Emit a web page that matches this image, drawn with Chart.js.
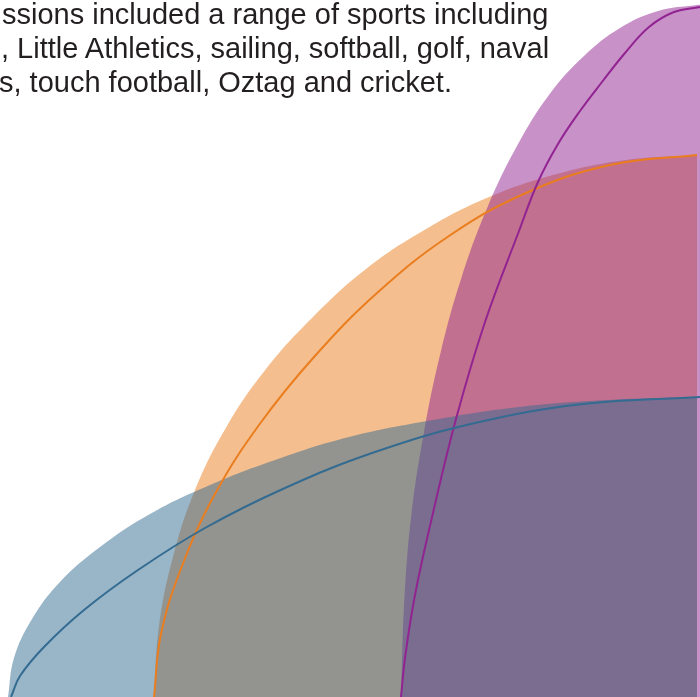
<!DOCTYPE html>
<html>
<head>
<meta charset="utf-8">
<script src="https://cdn.jsdelivr.net/npm/chart.js@4/dist/chart.umd.min.js"></script>
<style>
    body { margin: 0; background: #fff; overflow: hidden; }
    #wrap { position: relative; width: 700px; height: 697px; overflow: hidden; }
    #chart { position: absolute; left: 0; top: 0; }
    .note {
        position: absolute;
        white-space: nowrap;
        font-family: "Liberation Sans", Arial, sans-serif;
        font-size: 29px;
        line-height: 34px;
        color: #231f20;
    }
</style>
</head>
<body>
<div id="wrap">
    <canvas id="chart" width="700" height="697"></canvas>
    <div id="notes"></div>
</div>
<script>
// text visible at the top of the crop
const noteLines = [
    "ssions included a range of sports including",
    ", Little Athletics, sailing, softball, golf, naval",
    "s, touch football, Oztag and cricket."
];
const noteLeft = [2, 1, -1];
const noteTop = [-3, 31, 65];

const blueAreaX = [8, 14, 32, 60, 100, 150, 210, 278, 349, 433, 519, 607, 697];
const blueAreaY = [0, 39, 78, 115, 150, 183, 212, 238, 260, 277, 290, 297, 300];
const orangeAreaX = [154, 159, 173, 195, 227, 266, 313, 366, 426, 489, 557, 626, 697];
const orangeAreaY = [0, 71, 140, 207, 271, 328, 380, 428, 468, 500, 523, 537, 542];
const purpleAreaX = [401, 404, 411, 424, 441, 462, 488, 517, 549, 584, 620, 658, 697, 703];
const purpleAreaY = [0, 90, 179, 265, 346, 421, 491, 551, 602, 641, 669, 686, 692, 692];

// outlines
const blueLineX = [11, 20, 44, 84, 138, 205, 285, 375, 475, 583, 700];
const blueLineY = [0, 21, 50, 87, 127, 169, 209, 245, 274, 293, 300];
const orangeLineX = [154, 161, 182, 215, 259, 314, 377, 449, 526, 610, 697];
const orangeLineY = [0, 63, 131, 203, 272, 340, 404, 461, 504, 532, 542];
const purpleLineX = [401, 405, 415, 433, 456, 485, 519, 538, 558, 580, 602, 625, 649, 674, 700];
const purpleLineY = [0, 39, 102, 184, 278, 375, 466, 515, 553, 586, 615, 644, 670, 685, 690];

const blueRgb = "52, 107, 145";
const orangeRgb = "234, 125, 30";
const purpleRgb = "146, 36, 146";

noteLines.forEach((txt, i) => {
    const d = document.createElement("div");
    d.className = "note";
    d.textContent = txt;
    d.style.left = noteLeft[i] + "px";
    d.style.top = noteTop[i] + "px";
    document.getElementById("notes").appendChild(d);
});

function pts(xs, ys) {
    return xs.map((x, i) => ({ x: x, y: ys[i] }));
}

function area(xs, ys, rgb, order) {
    return {
        data: pts(xs, ys),
        backgroundColor: `rgba(${rgb}, 0.5)`,
        borderColor: "rgba(0, 0, 0, 0)",
        borderWidth: 0,
        fill: "start",
        tension: 0.4,
        pointRadius: 0,
        order: order,
    };
}

function outline(xs, ys, rgb, order) {
    return {
        data: pts(xs, ys),
        borderColor: `rgb(${rgb})`,
        borderWidth: 2,
        fill: false,
        tension: 0.4,
        pointRadius: 0,
        order: order,
    };
}

new Chart(document.getElementById("chart"), {
    type: "line",
    data: {
        datasets: [
            area(orangeAreaX, orangeAreaY, orangeRgb, 6),
            area(purpleAreaX, purpleAreaY, purpleRgb, 5),
            area(blueAreaX, blueAreaY, blueRgb, 4),
            outline(orangeLineX, orangeLineY, orangeRgb, 3),
            outline(purpleLineX, purpleLineY, purpleRgb, 2),
            outline(blueLineX, blueLineY, blueRgb, 1),
        ],
    },
    options: {
        responsive: false,
        animation: false,
        layout: { padding: 0 },
        scales: {
            x: { type: "linear", min: 0, max: 700, display: false },
            y: { type: "linear", min: 0, max: 697, display: false },
        },
        plugins: {
            legend: { display: false },
            tooltip: { enabled: false },
        },
    },
});
</script>
</body>
</html>
